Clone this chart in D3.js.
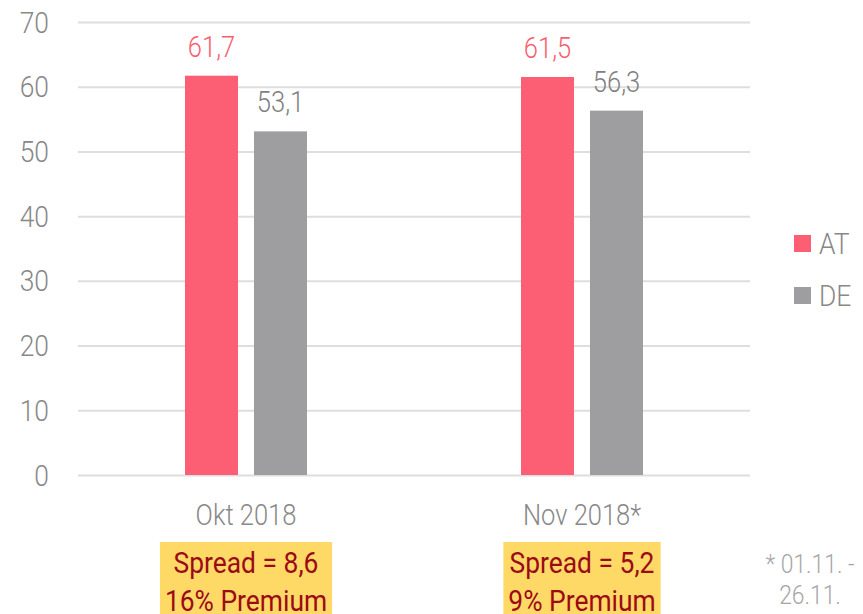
<!DOCTYPE html>
<html>
<head>
<meta charset="utf-8">
<script src="https://cdn.jsdelivr.net/npm/d3@7"></script>
<style>
  html, body { margin: 0; padding: 0; background: #fff; }
  svg text { font-family: Roboto, "Noto Sans", sans-serif; font-weight: 300; }
  svg text.spread { font-weight: 400; }
</style>
</head>
<body>
<svg id="chart" width="863" height="614"></svg>
<script>
const categories = ["Okt 2018", "Nov 2018*"];
const seriesNames = ["AT", "DE"];
const valuesAT = [61.7, 61.5];
const valuesDE = [53.1, 56.3];
const valueLabelsAT = ["61,7", "61,5"];
const valueLabelsDE = ["53,1", "56,3"];
const yTicks = [0, 10, 20, 30, 40, 50, 60, 70];
const spreadLines = [["Spread = 8,6", "16% Premium"], ["Spread = 5,2", "9% Premium"]];
const footnoteLines = ["* 01.11. -", "26.11."];

(function () {
const colors = { AT: "#FC5F73", DE: "#9E9D9F" };
const labelColors = { AT: "#F8606F", DE: "#808080" };
const SX = 0.88;

const svg = d3.select("#chart");
const mLeft = 78, mRight = 750, mTop = 22, mBottom = 475;

const y = d3.scaleLinear().domain([0, 70]).range([mBottom, mTop]);
const x0 = d3.scaleBand().domain(categories).range([mLeft, mRight]).padding(0);
const bw = x0.bandwidth();
const x1 = d3.scaleBand().domain(seriesNames)
  .range([bw / 2 - 61, bw / 2 + 61]).paddingInner(16 / 69).paddingOuter(0);

function ctext(g, x, yy, str, size, fill, anchor) {
  return g.append("text")
    .attr("transform", `translate(${x},${yy}) scale(${SX},1)`)
    .attr("text-anchor", anchor || "middle")
    .attr("font-size", size)
    .attr("fill", fill)
    .text(str);
}

// gridlines
const yAxis = d3.axisLeft(y).tickValues(yTicks).tickSize(-(mRight - mLeft)).tickFormat("");
const ga = svg.append("g").attr("transform", `translate(${mLeft},0)`).call(yAxis);
ga.select(".domain").remove();
ga.selectAll(".tick line").attr("stroke", "#DEDEDE").attr("stroke-width", 2);

// tick labels
yTicks.forEach(t => {
  ctext(svg, 49, y(t) + 10.5, String(t), 30, "#888888", "end");
});

// bars
const data = categories.map((c, i) => ({
  cat: c,
  vals: [
    { s: "AT", v: valuesAT[i], lbl: valueLabelsAT[i] },
    { s: "DE", v: valuesDE[i], lbl: valueLabelsDE[i] }
  ]
}));

const groups = svg.selectAll("g.cat").data(data).enter().append("g")
  .attr("class", "cat")
  .attr("transform", d => `translate(${x0(d.cat)},0)`);

groups.selectAll("rect").data(d => d.vals).enter().append("rect")
  .attr("x", d => x1(d.s))
  .attr("y", d => y(d.v))
  .attr("width", x1.bandwidth())
  .attr("height", d => y(0) - y(d.v))
  .attr("fill", d => colors[d.s]);

groups.each(function (d) {
  const g = d3.select(this);
  d.vals.forEach(v => {
    ctext(g, x1(v.s) + x1.bandwidth() / 2, y(v.v) - 19, v.lbl, 29, labelColors[v.s]);
  });
  ctext(g, bw / 2, 525, d.cat, 29, "#888888");
});

// spread boxes
categories.forEach((c, i) => {
  const cx = x0(c) + bw / 2;
  const g = svg.append("g");
  const rect = g.append("rect").attr("fill", "#FFD966");
  const t1 = ctext(g, cx, 573, spreadLines[i][0], 30, "#9C0A16").attr("class", "spread");
  const t2 = ctext(g, cx, 611, spreadLines[i][1], 30, "#9C0A16").attr("class", "spread");
  const w = Math.max(t1.node().getBBox().width, t2.node().getBBox().width) * SX + 10;
  rect.attr("x", cx - w / 2).attr("y", 542).attr("width", w).attr("height", 614 - 542);
});

// footnote
footnoteLines.forEach((t, i) => {
  ctext(svg, 810, 573 + i * 31, t, 26, "#A6A6A6");
});

// legend
seriesNames.forEach((s, i) => {
  const ly = 235 + i * 52;
  svg.append("rect").attr("x", 794).attr("y", ly).attr("width", 17).attr("height", 17).attr("fill", colors[s]);
  ctext(svg, 819, ly + 19, s, 30, "#888888", "start");
});
})();
</script>
</body>
</html>
